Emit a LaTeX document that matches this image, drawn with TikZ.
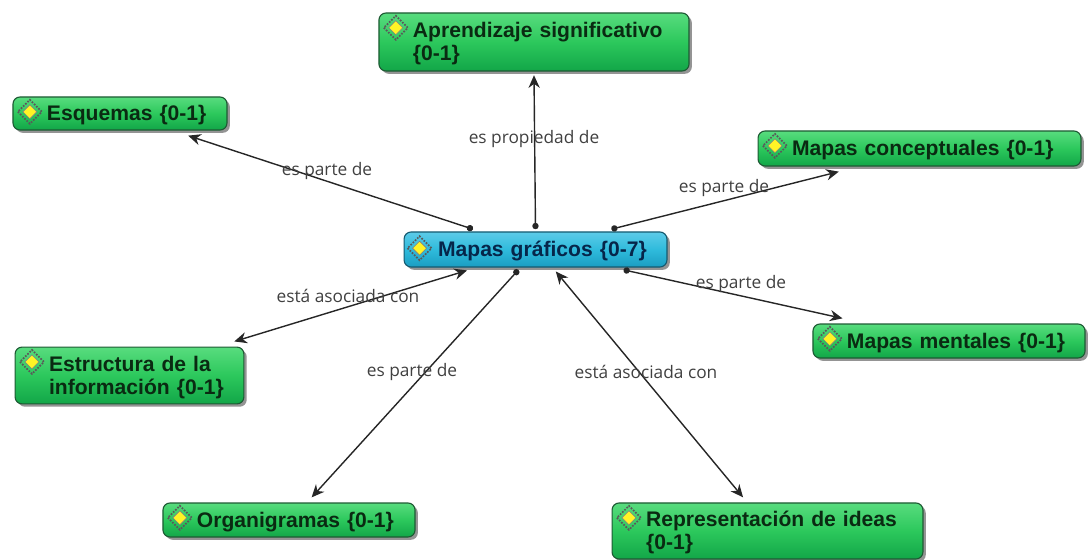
\documentclass[tikz,border=0pt]{standalone}
\usepackage{fontspec}
\setmainfont{Liberation Sans}
\newfontfamily\linkfont{Open Sans}
\usetikzlibrary{arrows.meta,shadows}
\definecolor{conceptink}{HTML}{0A2A12}
\definecolor{conceptedge}{HTML}{1E5A34}
\definecolor{conceptA}{HTML}{58DC7E}
\definecolor{conceptB}{HTML}{2CC85C}
\definecolor{conceptC}{HTML}{12A648}
\definecolor{mainedge}{HTML}{155A70}
\definecolor{mainink}{HTML}{06264A}
\definecolor{mainA}{HTML}{5CCBE8}
\definecolor{mainB}{HTML}{2FBBDC}
\definecolor{mainC}{HTML}{1A9DC2}
\tikzset{
  concept/.style={draw=conceptedge, thick, rounded corners=5pt, inner sep=0pt, outer sep=4pt,
    top color=conceptA, bottom color=conceptC, middle color=conceptB,
    drop shadow={shadow xshift=2pt, shadow yshift=-2pt, fill=black!60, opacity=.7},
    text=conceptink, font=\fontsize{15}{16.5}\selectfont\bfseries, align=left,
    execute at begin node={\leftskip=.85cm\rule{0pt}{13.5pt}}},
  mainconcept/.style={concept, outer sep=2pt, draw=mainedge, text=mainink,
    top color=mainA, bottom color=mainC, middle color=mainB},
  linktext/.style={font=\linkfont\fontsize{12.3}{14}\selectfont, text=black!75, inner sep=1pt},
  link/.style={line width=1pt, black!85, {Circle[length=4.5pt]}-{Stealth[length=9pt,width=8pt]}},
  linkboth/.style={line width=1pt, black!85, shorten <=1.5pt, {Stealth[length=9pt,width=8pt]}-{Stealth[length=9pt,width=8pt]}},
  nodeicon/.pic={
    \fill[yellow!85!white, draw=black!50, thin] (-7,0) -- (0,7) -- (7,0) -- (0,-7) -- cycle;
    \draw[black!65, densely dotted, line width=1.2pt] (-12,0) -- (0,12) -- (12,0) -- (0,-12) -- cycle;
  }
}
\begin{document}
\begin{tikzpicture}[x=.025cm, y=-.025cm]
   \useasboundingbox (0,0) rectangle (1088,560);
   \node[concept, outer sep=3pt, text width=7.75cm, minimum height=1.45cm] (aprendizaje) at (534,42) {Aprendizaje significativo\\\{0-1\}};
   \node[concept, text width=5.35cm, minimum height=.825cm] (esquemas) at (120,113.5) {Esquemas \{0-1\}};
   \node[concept, text width=8.07cm, minimum height=.875cm] (conceptuales) at (919.5,148.5) {Mapas conceptuales \{0-1\}};
   \node[mainconcept, text width=6.57cm, minimum height=.875cm] (main) at (535.5,249.5) {Mapas gráficos \{0-7\}};
   \node[concept, text width=6.8cm, minimum height=.85cm] (mentales) at (949,341) {Mapas mentales \{0-1\}};
   \node[concept, text width=5.72cm, minimum height=1.42cm] (estructura) at (129.5,375.5) {Estructura de la\\información \{0-1\}};
   \node[concept, text width=6.3cm, minimum height=.85cm] (organigramas) at (289,520) {Organigramas \{0-1\}};
   \node[concept, text width=7.77cm, minimum height=1.4cm] (representacion) at (767.5,531) {Representación de ideas\\\{0-1\}};
   \foreach \name/\xoff/\yoff in {aprendizaje/15/13.5,esquemas/16/14.5,conceptuales/16/14.5,main/13/13.5,mentales/16/14.5,estructura/16/14.5,organigramas/16/14.5,representacion/16/14.5}
      \pic at ([xshift=\xoff pt,yshift=-\yoff pt]\name.north west) {nodeicon};
   \draw[link] (main.162.3) to (esquemas.-18.3);
   \draw[link] (main.90) to (aprendizaje.south);
   \draw[link] (main.15.2) to (conceptuales.-164.9);
   \draw[link] (main.-13.2) to (mentales.168.8);
   \draw[link] (main.-130.8) to (organigramas.45.8);
   \draw[linkboth] (main.-163) to (estructura.18);
   \draw[linkboth] (main.-47.6) to (representacion.126.1);
   \node[linktext] (label1) at (327,171) {es parte de};
   \node[linktext] (label2) at (534,139) {es propiedad de};
   \node[linktext] (label3) at (724,188) {es parte de};
   \node[linktext] (label4) at (741,284) {es parte de};
   \node[linktext] (label5) at (348,296) {está asociada con};
   \node[linktext] (label6) at (412,372) {es parte de};
   \node[linktext] (label7) at (646,372) {está asociada con};
\end{tikzpicture}
\end{document}
